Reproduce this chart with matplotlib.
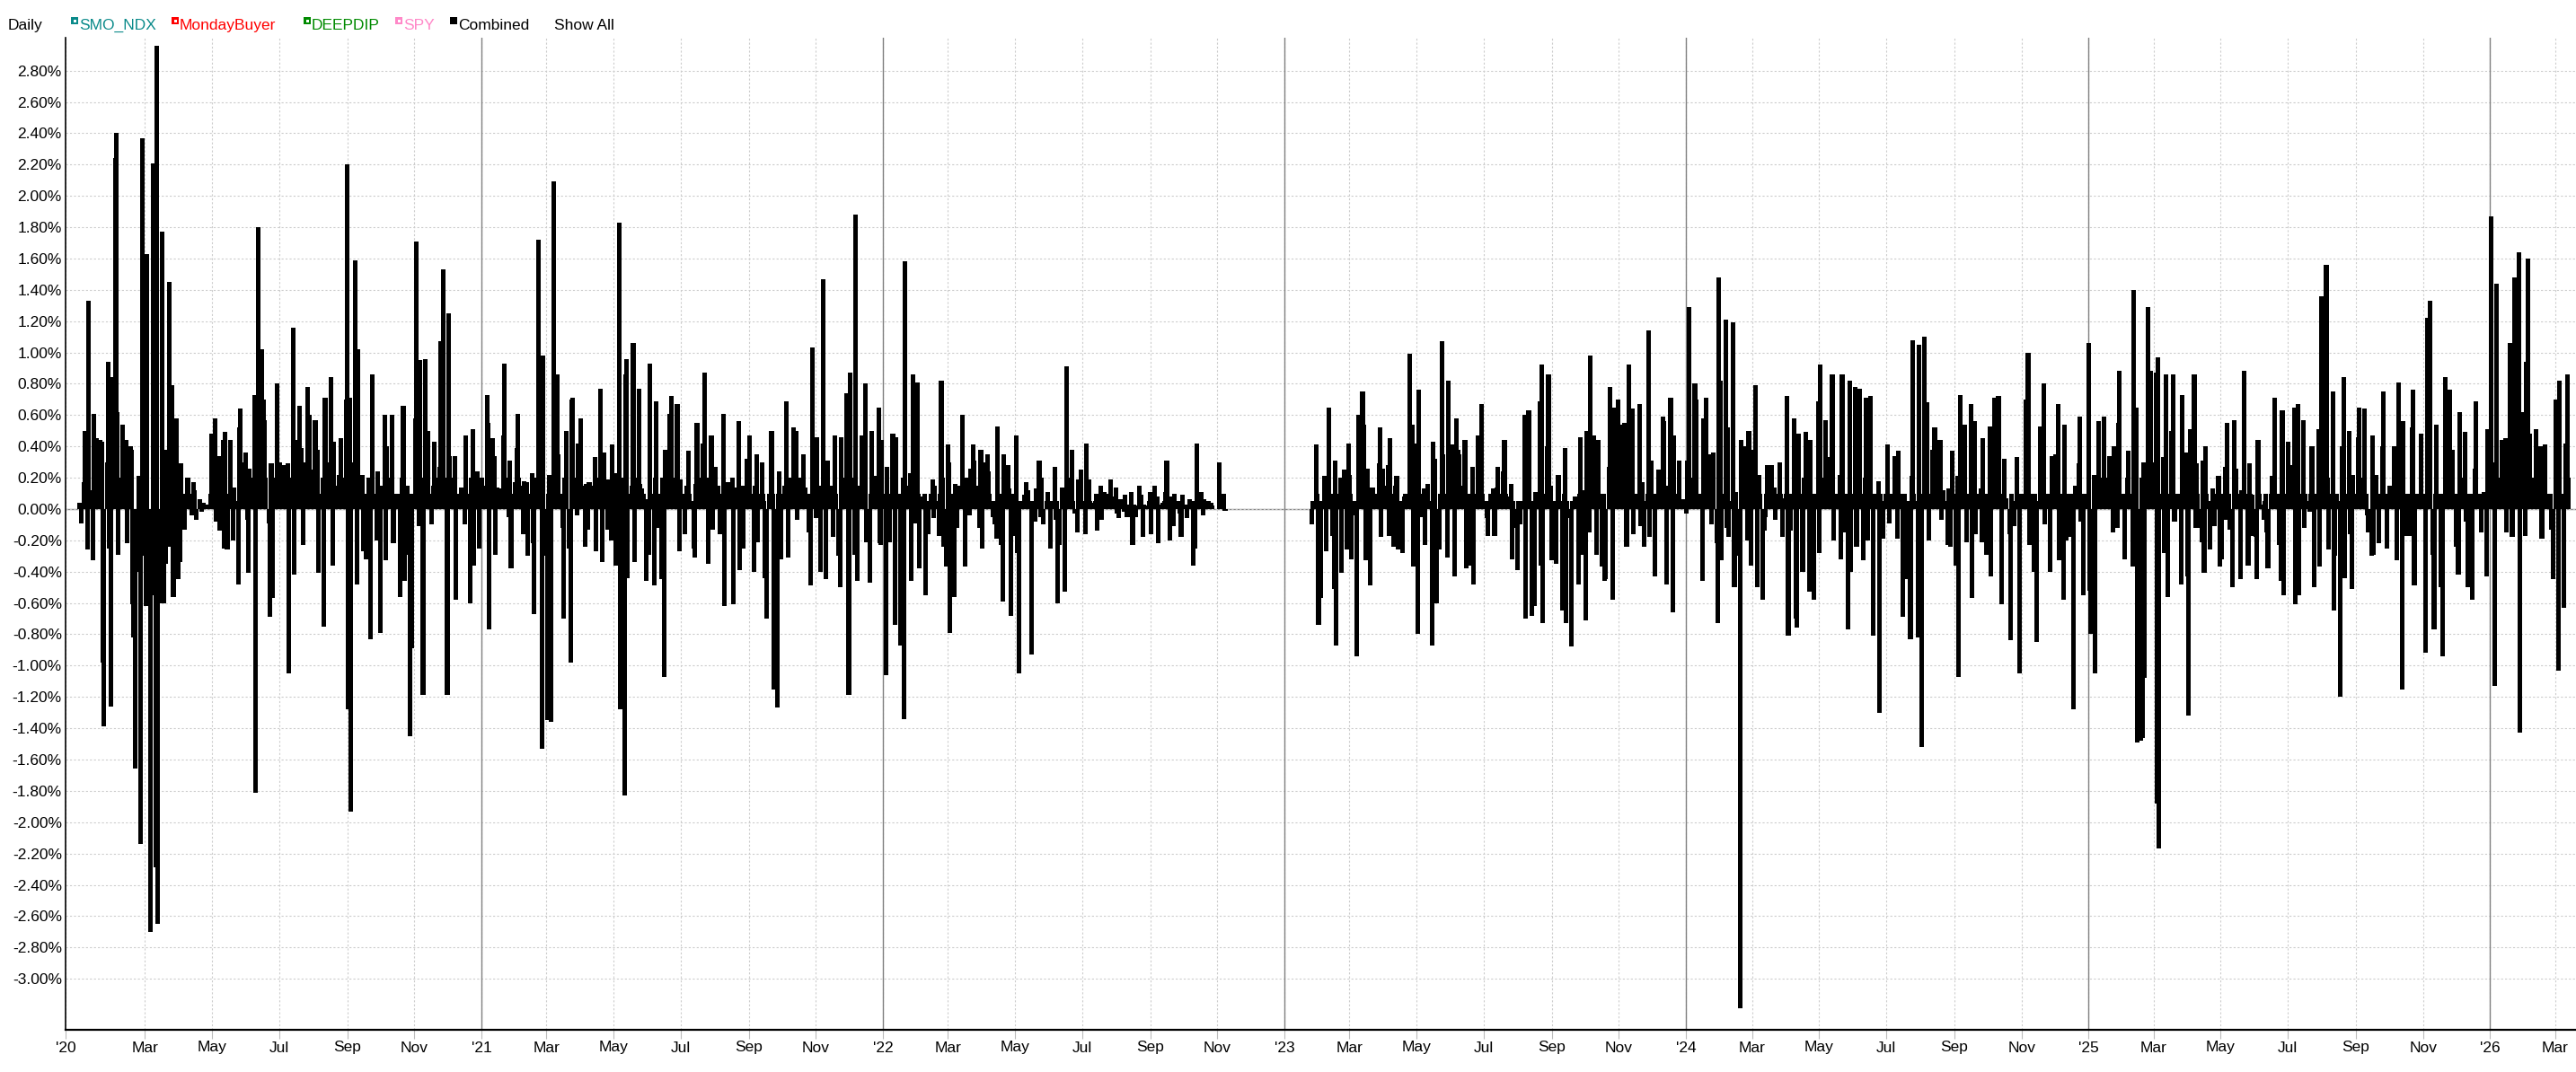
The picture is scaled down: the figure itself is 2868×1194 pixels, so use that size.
import numpy as np
import pandas as pd
import matplotlib
matplotlib.use("Agg")
import matplotlib.pyplot as plt
from matplotlib.patches import Rectangle

plt.rcParams['font.family'] = ['Liberation Sans', 'DejaVu Sans']
plt.rcParams['axes.unicode_minus'] = False

# daily return of the combined portfolio, in %, one value per business day
start_2020 = "2020-01-02"
ret_2020 = [
    0.04, -0.09, 0.17, 0.50, 0.08, -0.26, 1.33, 0.12, -0.33, 0.61,
    0.30, 0.45, 0.44, 0.20, 0.43, -0.98, -1.39, 0.30, 0.94, -0.25,
    -1.26, 0.84, 2.24, 2.40, 0.62, -0.29, 0.20, 0.54, 0.40, 0.42,
    0.44, -0.22, 0.40, 0.38, -0.61, -0.82, -1.66, -0.40, 0.21, -2.14,
    -0.30, 2.37, -0.62, 1.63, -0.54, -0.50, -2.70, 2.21, -0.55, -2.29,
    2.96, -2.65, -0.60, 1.77, -0.60, 0.38, -0.35, 1.45, -0.24, 0.30,
    0.79, -0.56, 0.58, -0.45, 0.15, -0.34, 0.29, -0.13, 0.10, 0.03,
    0.20, 0.10, -0.04, 0.17, 0.12, -0.03, -0.07, 0.06, 0.03, -0.02,
    0.04, 0.02, 0.03, 0.02, 0.02, 0.10, 0.48, 0.58, -0.08, 0.20,
    0.34, -0.14, 0.44, -0.25, 0.49, 0.10, -0.26, 0.44, 0.09, -0.20,
    0.14, 0.05, -0.48, 0.52, 0.64, 0.30, 0.20, 0.36, -0.07, -0.41,
    0.26, 0.10, 0.20, 0.73, -1.81, 0.40, 1.80, 1.02, 0.30, 0.70,
    0.57, 0.20, -0.09, -0.69, 0.29, -0.57, 0.20, 0.80, 0.10, 0.05,
    0.30, 0.15, 0.28, 0.10, 0.20, 0.29, -1.05, 0.20, 1.16, -0.42,
    0.44, 0.20, 0.66, 0.39, 0.10, -0.23, 0.30, 0.78, 0.20, 0.60,
    0.15, 0.25, 0.57, 0.20, 0.38, -0.41, 0.10, 0.20, -0.75, 0.71,
    0.15, 0.30, 0.84, 0.10, -0.36, 0.43, 0.10, 0.15, 0.22, 0.45,
    0.10, 0.20, 0.70, 2.20, -1.28, 0.71, -1.93, 0.30, 1.59, 0.20,
    -0.48, 1.02, 0.10, 0.22, -0.27, 0.10, -0.32, 0.20, -0.83, 0.15,
    0.86, 0.10, -0.20, 0.24, 0.10, -0.79, 0.15, 0.60, -0.33, 0.40,
    0.10, 0.20, 0.60, -0.22, 0.05, 0.08, 0.10, -0.56, 0.10, 0.20,
    0.66, -0.46, 0.15, -0.29, -1.45, 0.10, -0.89, 0.58, 1.71, 0.20,
    -0.11, 0.95, -1.19, 0.20, 0.96, 0.15, 0.50, 0.10, -0.10, 0.15,
    0.43, 0.10, 0.20, 0.27, 1.07, 0.30, 1.53, 0.20, -1.19, 1.25,
    0.34, 0.10, 0.20, 0.34, -0.58, 0.10, 0.08, 0.14, 0.05, 0.10,
    -0.10, 0.47, 0.10, -0.60, 0.20, 0.51, -0.36, 0.24, 0.10, -0.25, 0.18,
]

start_2021 = "2021-01-01"
ret_2021 = [
    0.20, 0.10, 0.15, 0.73, 0.55, -0.77, 0.45, 0.20, 0.34, -0.29,
    0.14, 0.05, 0.13, 0.10, 0.47, 0.93, 0.20, -0.05, 0.31, -0.38,
    0.10, 0.17, 0.39, 0.61, 0.20, 0.15, -0.16, 0.18, 0.10, 0.17,
    -0.30, 0.10, 0.23, -0.22, -0.67, 0.20, 1.72, 0.30, 0.94, -1.53,
    0.98, -0.30, -1.35, 0.10, 0.22, -1.36, 2.09, 0.30, 0.20, 0.86,
    0.35, 0.10, -0.12, -0.70, 0.20, 0.50, -0.25, -0.98, 0.70, 0.71,
    0.20, -0.04, 0.42, 0.20, 0.58, 0.15, -0.24, 0.16, 0.10, -0.13,
    0.17, 0.15, 0.10, 0.33, -0.27, 0.20, 0.77, 0.30, -0.34, 0.36,
    0.10, -0.13, 0.19, 0.10, -0.20, 0.41, -0.36, 0.23, 0.20, 1.83,
    -1.28, 0.20, -1.83, 0.86, 0.96, -0.44, 0.10, 0.15, 1.06, -0.34,
    0.20, 0.77, 0.16, 0.10, 0.13, 0.10, -0.46, 0.06, -0.29, 0.93,
    0.10, -0.49, 0.20, 0.69, -0.12, 0.10, -0.45, 0.20, -1.07, 0.38,
    0.15, 0.61, 0.20, 0.72, 0.15, 0.20, 0.67, 0.10, -0.27, 0.19,
    0.10, -0.16, 0.10, 0.15, 0.37, 0.10, 0.05, -0.25, -0.31, 0.16,
    0.55, 0.10, 0.20, 0.42, 0.15, 0.87, -0.35, 0.20, 0.10, 0.47,
    -0.13, 0.27, 0.10, 0.15, 0.10, -0.16, 0.61, -0.62, 0.10, 0.05,
    0.17, 0.10, 0.20, -0.61, 0.14, 0.10, 0.56, -0.39, 0.10, 0.15,
    -0.25, 0.32, 0.17, 0.10, 0.47, 0.10, -0.40, 0.15, 0.35, -0.21,
    0.10, 0.30, 0.10, 0.05, -0.44, -0.70, 0.10, 0.50, 0.50, 0.10,
    -1.15, -1.27, 0.10, 0.24, -0.32, 0.10, 0.15, 0.69, 0.10, -0.31,
    0.20, 0.10, 0.52, 0.15, 0.50, -0.07, 0.20, 0.10, 0.05, 0.35,
    0.14, 0.10, -0.15, -0.49, 0.10, 1.03, -0.06, 0.46, 0.10, 0.15,
    -0.40, 1.47, 0.20, -0.45, 0.27, 0.31, 0.10, 0.15, -0.18, 0.47,
    0.10, -0.30, -0.50, 0.46, 0.10, 0.20, 0.74, 0.20, -1.19, 0.87,
    0.20, -0.29, 1.88, 0.10, -0.46, 0.15, 0.47, 0.10, 0.20, 0.80,
    -0.21, -0.47, 0.10, 0.50, 0.10, 0.21, 0.15, 0.65, -0.22, -0.23, 0.44,
]

start_2022 = "2022-01-03"
ret_2022 = [
    0.10, -1.06, 0.27, 0.10, -0.21, 0.48, 0.45, -0.74, 0.46, 0.10,
    -0.87, 0.10, 0.20, -1.34, 1.58, 0.10, 0.15, 0.23, -0.46, 0.86,
    -0.09, 0.81, 0.10, -0.38, 0.08, 0.07, 0.10, -0.55, 0.05, -0.16,
    0.10, 0.19, -0.06, 0.15, 0.05, -0.17, 0.10, 0.82, 0.20, -0.24,
    -0.37, 0.41, 0.30, -0.79, 0.10, -0.56, 0.16, -0.12, 0.15, 0.10,
    0.60, 0.10, 0.05, -0.37, 0.20, -0.04, 0.26, 0.10, 0.41, 0.31,
    0.15, 0.10, -0.12, 0.38, -0.25, 0.30, 0.10, 0.35, 0.24, 0.10,
    -0.05, 0.05, -0.10, -0.19, 0.53, -0.23, 0.10, -0.59, 0.35, 0.10,
    0.28, 0.13, -0.68, 0.10, -0.17, 0.47, -0.28, 0.05, -1.05, 0.05,
    0.05, 0.09, 0.17, 0.05, 0.12, -0.93, 0.05, 0.05, -0.08, 0.13,
    0.31, -0.05, 0.20, -0.03, -0.10, 0.05, 0.11, 0.05, -0.25, 0.05,
    0.27, -0.07, 0.05, -0.60, -0.23, 0.14, 0.05, -0.53, 0.10, 0.91,
    0.20, 0.10, 0.38, 0.05, -0.03, -0.15, 0.19, 0.05, 0.25, 0.05,
    -0.16, 0.42, 0.05, 0.19, 0.05, 0.03, 0.04, 0.05, 0.10, -0.14,
    0.15, -0.07, 0.05, 0.11, 0.05, 0.10, 0.05, 0.19, 0.05, 0.08,
    0.14, -0.03, -0.06, 0.03, 0.06, -0.02, 0.09, 0.03, -0.05, 0.03,
    0.11, -0.23, 0.03, 0.02, -0.05, 0.15, 0.05, 0.09, -0.18, 0.03,
    0.02, 0.02, 0.05, 0.11, -0.16, 0.15, 0.05, 0.08, -0.22, 0.03,
    0.04, 0.02, 0.05, 0.11, 0.31, -0.20, 0.08, 0.05, -0.11, 0.10,
    0.05, 0.03, -0.03, -0.18, 0.09, 0.03, -0.06, 0.03, 0.02, 0.06,
    -0.36, 0.05, -0.25, 0.42, 0.05, 0.11, 0.03, -0.04, 0.06, 0.03,
    0.05, 0.03, 0.04, 0.02, 0.00, 0.00, 0.00, 0.00, 0.30, 0.05,
    0.10, -0.01,
]

start_2023 = "2023-01-26"
ret_2023 = [
    -0.10, 0.05, 0.41, 0.10, -0.74, 0.05, -0.57, 0.21, 0.10, -0.27,
    0.10, 0.65, 0.10, -0.17, -0.51, 0.31, -0.87, 0.10, 0.20, -0.41,
    0.10, 0.25, -0.26, 0.42, 0.22, 0.10, -0.32, 0.05, -0.04, -0.94,
    0.60, 0.20, 0.75, 0.54, 0.10, -0.33, 0.26, -0.49, 0.05, 0.14,
    0.10, 0.05, 0.10, 0.29, 0.52, -0.18, 0.26, 0.10, 0.15, 0.28,
    -0.17, 0.45, -0.24, 0.10, 0.15, 0.21, -0.26, 0.05, -0.28, 0.05,
    0.08, 0.10, 0.05, 0.99, 0.20, 0.54, -0.37, 0.42, -0.80, 0.76,
    0.10, -0.05, 0.13, -0.23, 0.10, 0.16, 0.05, -0.87, 0.43, 0.10,
    0.32, -0.60, -0.26, 0.10, 1.07, 0.35, 0.10, -0.31, 0.82, 0.10,
    0.15, 0.41, -0.43, 0.58, 0.10, 0.38, 0.35, 0.10, 0.15, 0.44,
    -0.38, 0.10, -0.36, 0.10, 0.27, -0.48, 0.10, 0.47, 0.20, 0.15,
    0.67, 0.10, 0.05, -0.06, -0.17, 0.05, 0.10, 0.13, -0.17, 0.05,
    0.14, 0.27, 0.10, 0.05, 0.24, 0.44, 0.10, 0.05, 0.08, 0.16,
    -0.32, 0.05, -0.12, -0.39, 0.05, -0.10, 0.05, 0.60, -0.70, 0.10,
    0.05, 0.63, -0.68, 0.05, -0.62, 0.11, 0.10, 0.69, -0.36, 0.92,
    -0.73, 0.10, 0.40, 0.86, 0.10, 0.15, -0.33, 0.05, -0.35, 0.05,
    0.22, 0.05, -0.65, 0.10, 0.39, -0.73, 0.05, -0.06, -0.88, 0.05,
    0.05, 0.08, -0.48, 0.10, 0.46, -0.29, 0.12, -0.71, 0.50, 0.10,
    -0.15, 0.98, 0.47, 0.10, 0.15, -0.29, 0.44, 0.10, -0.37, 0.10,
    -0.46, -0.45, 0.27, 0.78, 0.10, -0.58, 0.65, 0.10, 0.70, 0.20,
    0.54, 0.15, 0.55, 0.10, -0.24, 0.15, 0.92, 0.64, -0.16, 0.05,
    0.10, 0.08, 0.67, -0.11, 0.17, 0.05, -0.24, 0.10, 1.14, -0.18,
    0.31, 0.10, -0.43, 0.10, 0.05, 0.25, 0.15, 0.59, 0.56, 0.10,
    -0.48, 0.15, 0.71, 0.10, -0.66, 0.47, 0.10, 0.02, 0.31, 0.05,
    0.03, 0.06,
]

start_2024 = "2024-01-01"
ret_2024 = [
    -0.03, 0.31, 0.10, 1.29, 0.20, 0.10, 0.80, 0.70, 0.10, 0.05,
    0.10, -0.46, 0.58, 0.20, 0.71, 0.35, 0.17, -0.10, 0.10, 0.36,
    -0.22, -0.73, 1.48, 0.82, -0.33, 0.10, 1.21, -0.12, 0.52, -0.18,
    0.05, 1.19, -0.50, 0.11, -0.30, -3.19, 0.44, 0.10, 0.20, 0.40,
    -0.20, 0.50, 0.10, -0.36, 0.38, 0.79, 0.10, -0.50, 0.22, 0.10,
    -0.58, -0.14, -0.05, 0.10, 0.28, 0.10, 0.28, 0.10, 0.14, -0.07,
    0.10, 0.30, 0.10, 0.07, -0.18, 0.10, 0.72, -0.81, 0.10, -0.14,
    0.58, 0.10, -0.70, -0.76, 0.48, 0.10, -0.40, 0.20, 0.10, 0.49,
    -0.53, 0.44, -0.06, 0.10, -0.58, 0.10, 0.69, -0.28, 0.92, 0.20,
    0.10, 0.57, 0.15, 0.33, 0.10, 0.86, -0.20, 0.10, 0.05, 0.10,
    0.22, -0.32, 0.86, -0.15, 0.10, -0.77, 0.10, 0.82, -0.40, 0.10,
    0.78, -0.24, 0.10, 0.20, 0.77, -0.33, 0.10, 0.20, 0.71, -0.20,
    0.72, 0.10, -0.81, 0.10, 0.05, 0.18, -1.30, 0.10, 0.05, -0.19,
    0.10, 0.41, 0.10, -0.09, 0.10, 0.05, 0.34, 0.10, -0.19, 0.37,
    0.10, -0.69, 0.05, 0.10, -0.45, 0.05, -0.83, 0.21, 1.08, 0.10,
    0.05, -0.82, 1.05, 0.10, -1.52, 1.10, 0.10, 0.68, 0.10, -0.20,
    0.38, 0.10, 0.52, 0.10, 0.20, 0.44, -0.07, 0.10, 0.12, 0.05,
    -0.23, 0.13, -0.24, 0.10, 0.37, -0.36, 0.10, 0.21, -1.07, 0.73,
    0.10, 0.54, 0.10, -0.21, 0.10, 0.67, -0.57, 0.10, 0.56, -0.16,
    0.10, 0.05, 0.13, -0.21, 0.45, -0.29, 0.10, 0.05, 0.53, -0.43,
    0.71, 0.10, 0.15, 0.31, 0.72, -0.61, 0.10, 0.32, 0.05, 0.07,
    -0.16, -0.84, 0.10, 0.05, -0.11, 0.33, 0.10, -1.05, 0.10, 0.05,
    0.10, 0.70, 0.20, 1.00, -0.23, 0.10, -0.40, 0.10, 0.05, -0.85,
    0.53, 0.10, 0.20, 0.80, -0.10, 0.10, 0.05, -0.40, 0.10, 0.34,
    0.35, 0.10, 0.67, -0.33, 0.10, -0.58, 0.54, 0.10, -0.20, 0.10,
    -0.18, 0.10, -1.28, 0.10, 0.15, 0.29, 0.59, -0.08, 0.10, -0.55,
    0.10, 0.05,
]

start_2025 = "2025-01-01"
ret_2025 = [
    1.06, -0.52, -0.80, 0.22, -1.05, 0.10, 0.20, 0.56, 0.10, 0.20,
    0.59, 0.10, 0.20, 0.34, 0.10, 0.05, -0.15, 0.40, -0.12, 0.55,
    0.88, 0.10, 0.07, -0.32, 0.10, 0.20, 0.37, 0.10, -0.37, 1.40,
    0.20, 0.65, -1.49, -1.48, 0.20, -1.46, 0.30, -1.08, 1.29, 0.20,
    0.88, 0.30, 0.20, 0.87, -1.88, 0.97, -2.17, 0.10, 0.33, -0.28,
    0.86, 0.10, -0.56, 0.50, 0.40, 0.86, -0.08, 0.10, 0.05, 0.10,
    -0.48, 0.73, 0.10, 0.36, -0.43, -1.32, 0.51, 0.10, 0.86, -0.12,
    0.29, 0.10, -0.12, -0.21, 0.31, -0.41, 0.40, 0.10, -0.26, 0.05,
    0.04, 0.13, -0.11, 0.10, 0.21, -0.37, 0.10, -0.32, 0.27, -0.07,
    0.55, 0.10, -0.13, -0.50, 0.57, 0.10, 0.26, 0.10, -0.45, 0.12,
    0.10, 0.88, 0.10, -0.36, 0.29, 0.10, -0.17, 0.09, -0.18, -0.45,
    0.44, 0.10, 0.03, -0.07, 0.05, 0.10, -0.15, -0.38, 0.10, 0.21,
    0.10, 0.71, 0.10, -0.23, 0.10, -0.46, 0.63, -0.55, 0.10, 0.43,
    0.10, 0.28, 0.10, 0.65, -0.61, 0.10, 0.67, -0.55, 0.10, 0.57,
    -0.12, 0.10, 0.05, -0.02, 0.10, 0.40, 0.10, -0.50, 0.10, 0.51,
    -0.37, 0.20, 1.36, 0.30, 1.56, 0.20, -0.26, 0.10, 0.75, -0.65,
    -0.30, 0.10, 0.05, -1.20, 0.40, 0.10, 0.84, -0.44, 0.10, 0.50,
    -0.16, -0.51, 0.22, 0.10, 0.05, 0.46, 0.65, 0.10, 0.20, 0.64,
    0.10, -0.04, -0.15, -0.30, 0.47, -0.29, 0.10, 0.22, -0.22, 0.10,
    0.05, 0.40, 0.75, -0.25, 0.10, 0.05, 0.15, 0.10, 0.40, 0.10,
    -0.33, 0.10, 0.81, -1.15, 0.56, 0.10, 0.05, -0.17, 0.10, -0.17,
    0.52, 0.76, -0.49, 0.10, 0.08, 0.10, 0.48, 0.10, -0.92, 0.10,
    1.22, 0.30, 1.33, -0.29, -0.77, 0.10, 0.54, 0.10, -0.50, 0.10,
    -0.94, 0.10, 0.84, 0.20, 0.76, 0.10, 0.05, 0.38, -0.24, 0.10,
    -0.42, 0.62, 0.10, 0.20, 0.49, -0.08, 0.10, -0.50, 0.10, -0.58,
    0.10, 0.26, 0.69, 0.10, 0.05, -0.15, 0.10, 0.11, -0.43, 0.51, 0.20,
]

start_2026 = "2026-01-01"
ret_2026 = [
    0.10, 1.87, -1.13, 0.30, 1.44, 0.20, 0.10, 0.44, 0.10, 0.20,
    0.45, -0.15, 1.06, 0.10, -0.18, 0.38, 1.48, 0.30, 1.64, -1.43,
    0.20, 0.62, -0.17, 0.94, 1.60, 0.20, 0.48, 0.10, 0.20, 0.10,
    0.51, 0.10, 0.40, -0.19, 0.10, 0.28, 0.41, 0.10, 0.05, 0.10,
    -0.13, -0.45, 0.70, 0.10, -1.03, 0.82, 0.10, -0.63, 0.10, 0.42,
    0.86, 0.20,
]

segments = [
    (start_2020, ret_2020), (start_2021, ret_2021), (start_2022, ret_2022),
    (start_2023, ret_2023), (start_2024, ret_2024), (start_2025, ret_2025),
    (start_2026, ret_2026),
]

legend_items = [
    ("SMO_NDX", "#0a8a8a"),
    ("MondayBuyer", "#ff0000"),
    ("DEEPDIP", "#008a00"),
    ("SPY", "#ff88c8"),
    ("Combined", "#000000"),
]

dates = []
values = []
for start, rets in segments:
    dates.extend(pd.bdate_range(start, periods=len(rets)))
    values.extend(rets)
dates = pd.DatetimeIndex(dates)
values = np.array(values)

W, H = 2868, 1194
fig = plt.figure(figsize=(W / 100, H / 100), dpi=100)
ax = fig.add_axes([73 / W, 1 - 1147 / H, 1 - 73 / W, (1147 - 42) / H])

x0 = pd.Timestamp("2019-12-20")
x1 = pd.Timestamp("2026-03-20")

ax.axhline(0, color="#888888", lw=1, zorder=1)
ax.bar(dates, values, width=4.2, color="black", linewidth=0, zorder=3,
       antialiased=False)

ax.set_xlim(x0, x1)
ax.set_ylim(-3.326, 3.01)

# y axis
yt = np.round(np.arange(-3.0, 2.81, 0.2), 2)
ax.set_yticks(yt)
ax.set_yticklabels([f"{v:.2f}%" for v in yt])
ax.tick_params(axis="y", length=0, pad=3, labelsize=12.5, colors="black")
ax.yaxis.grid(True, color="#cccccc", linestyle=(0, (2, 2)), lw=0.8, zorder=0)

# x axis: every second month; the first year mark sits on the axis start
month_ticks = [d for d in pd.date_range("2020-03-01", x1, freq="MS")
               if d.month in (1, 3, 5, 7, 9, 11)]
tick_pos = [x0] + month_ticks
tick_lab = ["'20"] + ["'" + d.strftime("%y") if d.month == 1 else d.strftime("%b")
                      for d in month_ticks]
ax.set_xticks(tick_pos)
ax.set_xticklabels(tick_lab)
ax.tick_params(axis="x", length=7, pad=2, labelsize=12.5, color="#bbbbbb")
ax.xaxis.grid(True, color="#cccccc", linestyle=(0, (2, 2)), lw=0.8, zorder=0)

for d in month_ticks:
    if d.month == 1:
        ax.axvline(d, color="#808080", lw=1, zorder=2)

for side in ["top", "right"]:
    ax.spines[side].set_visible(False)
ax.spines["left"].set_color("black")
ax.spines["left"].set_linewidth(1.2)
ax.spines["bottom"].set_color("black")
ax.spines["bottom"].set_linewidth(1.6)

# legend row at the top
def px_text(x, y, s, color):
    fig.text(x / W, 1 - y / H, s, color=color, fontsize=12.5,
             ha="left", va="baseline")


def px_box(x, y, w, h, color):
    fig.patches.append(Rectangle((x / W, 1 - (y + h) / H), w / W, h / H,
                                 transform=fig.transFigure, facecolor=color,
                                 edgecolor="none"))


px_text(9, 33, "Daily", "black")
box_x = [79, 191, 338, 440, 501]
for (name, col), bx in zip(legend_items, box_x):
    px_box(bx, 19, 8, 8, col)
    if name != "Combined":
        px_box(bx + 3, 22, 3, 3, "white")
    px_text(bx + 9, 33, name, col)
px_text(617, 33, "Show All", "black")

fig.savefig("out.png", dpi=100)
